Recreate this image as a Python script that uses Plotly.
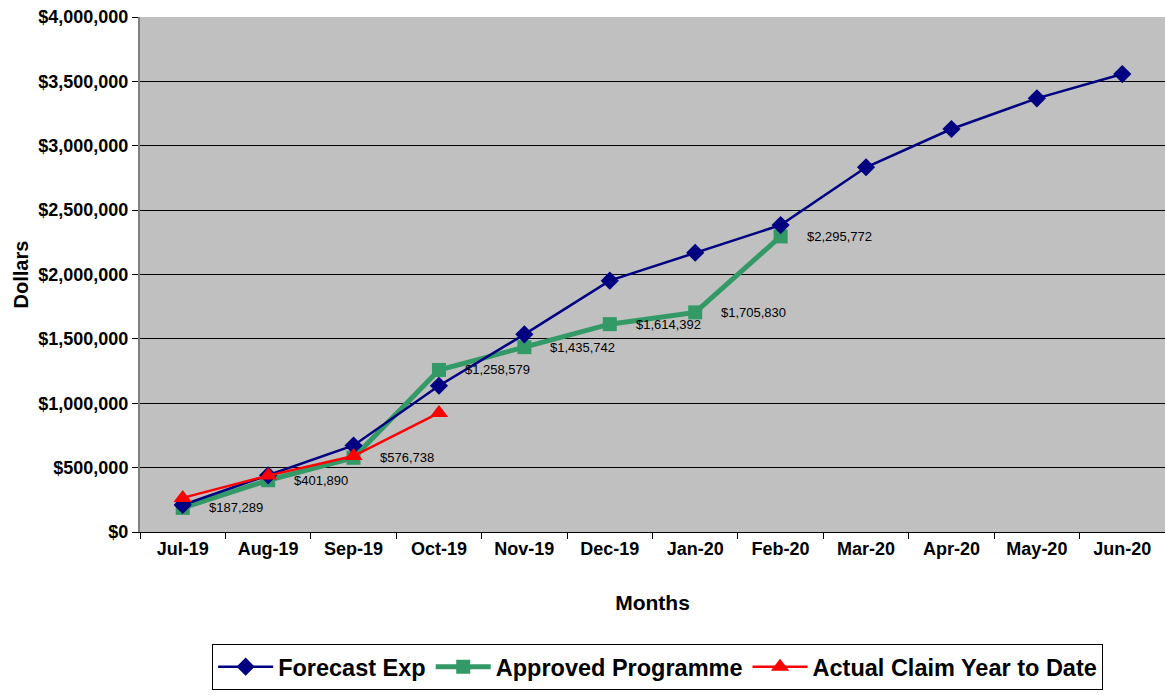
import plotly.graph_objects as go

months = ["Jul-19", "Aug-19", "Sep-19", "Oct-19", "Nov-19", "Dec-19",
          "Jan-20", "Feb-20", "Mar-20", "Apr-20", "May-20", "Jun-20"]

forecast_exp = [210000, 440000, 672000, 1136000, 1535000, 1952000,
                2169000, 2384000, 2833000, 3130000, 3368000, 3557000]

approved_programme = [187289, 401890, 576738, 1258579, 1435742, 1614392,
                      1705830, 2295772]

actual_claim_ytd = [265000, 438000, 590000, 925000]

FONT = "Liberation Sans, Arial"

fig = go.Figure()

# Approved programme goes under the forecast line, as in the workbook chart
fig.add_trace(go.Scatter(
    x=months[:len(approved_programme)], y=approved_programme,
    name="Approved Programme", mode="lines+markers",
    line=dict(color="#339966", width=5),
    marker=dict(symbol="square", size=14, color="#339966"),
    legendrank=2,
))
fig.add_trace(go.Scatter(
    x=months, y=forecast_exp,
    name="Forecast Exp", mode="lines+markers",
    line=dict(color="#000080", width=2.5),
    marker=dict(symbol="diamond", size=14, color="#000080"),
    legendrank=1,
))
fig.add_trace(go.Scatter(
    x=months[:len(actual_claim_ytd)], y=actual_claim_ytd,
    name="Actual Claim Year to Date", mode="lines+markers",
    line=dict(color="#FF0000", width=2.5),
    marker=dict(symbol="triangle-up", size=16, color="#FF0000"),
    legendrank=3,
))

# value labels to the right of each approved-programme point
for m, v in zip(months, approved_programme):
    fig.add_annotation(
        x=m, y=v, text=f"${v:,.0f}", showarrow=False,
        xanchor="left", yanchor="middle", xshift=24,
        font=dict(family=FONT, size=13, color="#000000"),
    )

fig.update_layout(
    width=1165, height=695,
    margin=dict(l=140, r=0, t=17, b=163),
    paper_bgcolor="#FFFFFF",
    plot_bgcolor="#C0C0C0",
    font=dict(family=FONT, color="#000000"),
    showlegend=True,
    legend=dict(
        orientation="h", x=0.505, xanchor="center",
        y=-0.262, yanchor="middle",
        bgcolor="#FFFFFF", bordercolor="#000000", borderwidth=1,
        font=dict(family=FONT, size=23.5, color="#000000", weight="bold"),
        itemwidth=55,
        traceorder="normal",
    ),
)

fig.update_xaxes(
    type="category", range=[-0.5, 11.5],
    title=dict(text="<b>Months</b>", font=dict(size=21), standoff=37),
    tickfont=dict(size=18, weight="bold"),
    showgrid=False,
    showline=True, linecolor="#000000", linewidth=1,
    ticks="outside", tickson="boundaries", ticklen=6, tickcolor="#000000",
    mirror=False,
)
fig.update_yaxes(
    range=[0, 4000000], dtick=500000,
    tickprefix="$", tickformat=",",
    title=dict(text="<b>Dollars</b>", font=dict(size=20), standoff=4),
    tickfont=dict(size=18, weight="bold"),
    showgrid=True, gridcolor="#000000", gridwidth=1,
    showline=True, linecolor="#808080", linewidth=2,
    ticks="outside", ticklen=6, tickcolor="#000000",
    zeroline=False,
)

fig.write_html("out.html")
